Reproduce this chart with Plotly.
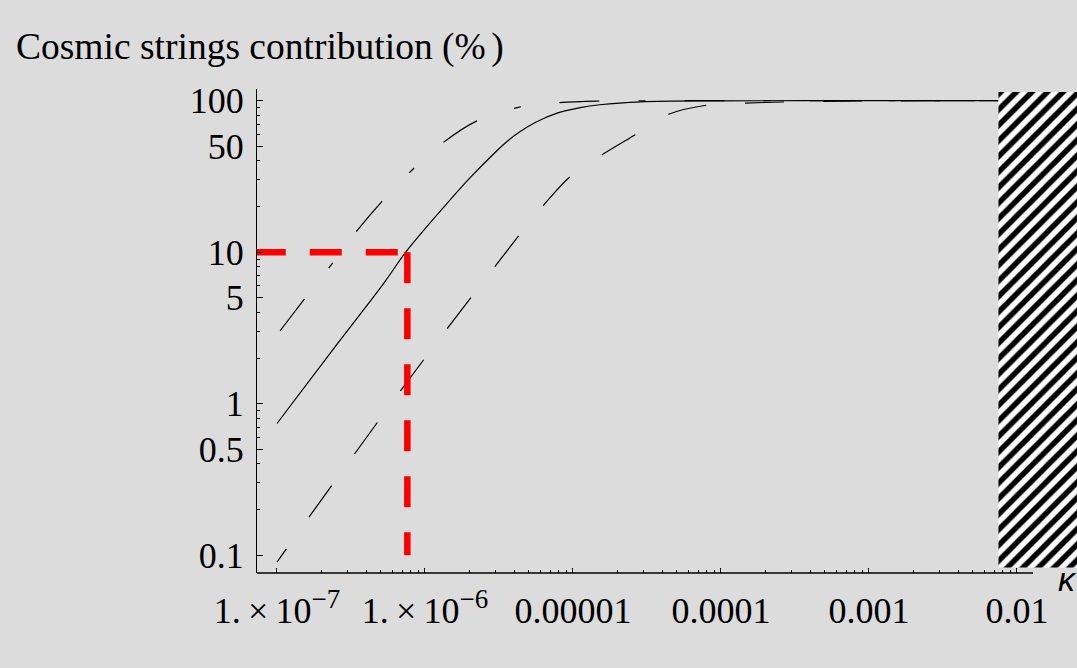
import plotly.graph_objects as go

# ---- data ----
kappa_mid = [1.0e-7, 2.57e-7, 5.31e-7, 7.41e-7, 1.35e-6, 2.05e-6, 2.94e-6, 3.6e-6, 4.4e-6,
             5.6e-6, 7.9e-6, 1.12e-5, 1.52e-5, 2.88e-5, 1.0e-4, 1.0e-3, 7.5e-3]
pct_mid = [0.74, 2.5, 6.3, 10.0, 20.0, 31.5, 45.0, 54.0, 62.5,
           72.0, 83.0, 90.0, 94.0, 98.3, 99.7, 100.0, 100.0]

kappa_up = [1.05e-7, 1.53e-7, 2.38e-7, 3.42e-7, 5.09e-7, 8.47e-7, 1.33e-6, 2.21e-6,
            4.41e-6, 7.93e-6, 1.45e-5, 5.0e-5, 1.0e-3, 7.5e-3]
pct_up = [3.03, 4.9, 8.5, 13.6, 21.5, 36.0, 53.0, 73.0,
          91.0, 97.0, 99.4, 99.9, 100.0, 100.0]

kappa_lo = [1.0e-7, 1.65e-7, 3.37e-7, 6.89e-7, 1.42e-6, 2.99e-6, 4.34e-6, 6.86e-6,
            9.55e-6, 1.57e-5, 2.67e-5, 4.43e-5, 7.94e-5, 1.42e-4, 2.64e-4, 6.31e-4,
            1.58e-3, 7.5e-3]
pct_lo = [0.09, 0.179, 0.471, 1.23, 3.15, 8.1, 13.0, 22.4,
          31.5, 43.9, 60.0, 81.3, 93.3, 96.2, 98.0, 99.3,
          99.8, 100.0]

# red marker lines (10 % level)
red_kappa = 7.6e-7
red_level = 10.0
red_bottom = 0.1
red_left = 6.97e-8

# excluded (hatched) region
hatch_kappa = [7.5e-3, 3.0e-2]
hatch_pct = [0.083, 114.0]

x_tickvals = [1e-7, 1e-6, 1e-5, 1e-4, 1e-3, 1e-2]
x_ticktext = ["1.\u2009×\u200910<sup><span style='font-size:27px'>−7</span></sup>",
              "1.\u2009×\u200910<sup><span style='font-size:27px'>−6</span></sup>",
              "0.00001", "0.0001", "0.001", "0.01"]
y_tickvals = [0.1, 0.5, 1, 5, 10, 50, 100]
y_ticktext = ["0.1", "0.5", "1", "5", "10", "50", "100"]

x_minor = [m * d for d in [1e-7, 1e-6, 1e-5, 1e-4, 1e-3] for m in range(2, 10)]
y_minor = [m * d for d in [0.1, 1, 10] for m in [2, 3, 4, 6, 7, 8, 9]]

BG = "#dcdcdc"
SERIF = "Liberation Serif"

fig = go.Figure()

fig.add_trace(go.Scatter(
    x=kappa_lo, y=pct_lo, mode="lines",
    line=dict(color="black", width=1.2, shape="spline", smoothing=0.8,
              dash=",".join(["16px", "39px"] + ["39px", "39px"] * 16)),
    showlegend=False, hoverinfo="skip"))

fig.add_trace(go.Scatter(
    x=kappa_up, y=pct_up, mode="lines",
    line=dict(color="black", width=1.2, shape="spline", smoothing=0.8,
              dash="40px,39px,7px,39px"),
    showlegend=False, hoverinfo="skip"))

fig.add_trace(go.Scatter(
    x=kappa_mid, y=pct_mid, mode="lines",
    line=dict(color="black", width=1.2, shape="spline", smoothing=1.0),
    showlegend=False, hoverinfo="skip"))

# red dashed guide lines
fig.add_trace(go.Scatter(
    x=[red_left, red_kappa], y=[red_level, red_level], mode="lines",
    line=dict(color="#ff0000", width=6.5, dash="32px,24px"),
    showlegend=False, hoverinfo="skip"))
fig.add_trace(go.Scatter(
    x=[red_kappa, red_kappa], y=[red_level, red_bottom], mode="lines",
    line=dict(color="#ff0000", width=6.5, dash="31px,25px"),
    showlegend=False, hoverinfo="skip"))

# hatched excluded region
fig.add_trace(go.Scatter(
    x=[hatch_kappa[0], hatch_kappa[1], hatch_kappa[1], hatch_kappa[0], hatch_kappa[0]],
    y=[hatch_pct[0], hatch_pct[0], hatch_pct[1], hatch_pct[1], hatch_pct[0]],
    mode="lines", fill="toself", fillcolor="white",
    fillpattern=dict(shape="/", fgcolor="black", bgcolor="white", fgopacity=1,
                     fillmode="replace", size=11, solidity=0.5),
    line=dict(width=0, color="white"),
    showlegend=False, hoverinfo="skip"))

fig.update_layout(
    width=1077, height=668,
    margin=dict(l=257, r=0, t=89, b=95),
    paper_bgcolor=BG, plot_bgcolor=BG,
    font=dict(family=SERIF, color="black", size=36),
    xaxis=dict(
        type="log", range=[-7.135, -1.5945],
        showgrid=False, zeroline=False, showline=False,
        tickmode="array", tickvals=x_tickvals, ticktext=x_ticktext,
        ticks="inside", ticklen=5, tickwidth=1, tickcolor="black",
        tickfont=dict(family=SERIF, size=36, color="black"),
        ticklabelstandoff=13,
        minor=dict(tickmode="array", tickvals=x_minor, ticks="inside",
                   ticklen=3, tickwidth=1, tickcolor="black", showgrid=False),
    ),
    yaxis=dict(
        type="log", range=[-1.1175, 2.077],
        showgrid=False, zeroline=False,
        showline=True, linecolor="black", linewidth=1.3,
        tickmode="array", tickvals=y_tickvals, ticktext=y_ticktext,
        ticks="inside", ticklen=6, tickwidth=1, tickcolor="black",
        tickfont=dict(family=SERIF, size=36, color="black"),
        ticklabelstandoff=5,
        minor=dict(tickmode="array", tickvals=y_minor, ticks="inside",
                   ticklen=3.3, tickwidth=1, tickcolor="black", showgrid=False),
    ),
    shapes=[dict(type="line", xref="paper", yref="paper",
                 x0=0, x1=(1033 - 257) / 820, y0=0, y1=0,
                 line=dict(color="black", width=1.3), layer="above")],
    annotations=[
        dict(text="Cosmic strings contribution (%<span style='font-size:22px'> </span>)",
             xref="paper", yref="paper",
             x=(14 - 257) / 820, y=(573 - 47.2) / 484, xanchor="left", yanchor="middle",
             showarrow=False, font=dict(family=SERIF, size=37.5, color="black")),
        dict(text="<i>κ</i>", xref="paper", yref="paper",
             x=(1067 - 257) / 820, y=(573 - 579) / 484, xanchor="center", yanchor="middle",
             showarrow=False, font=dict(family="Liberation Sans", size=34, color="black")),
    ],
)

fig.write_html("out.html")
